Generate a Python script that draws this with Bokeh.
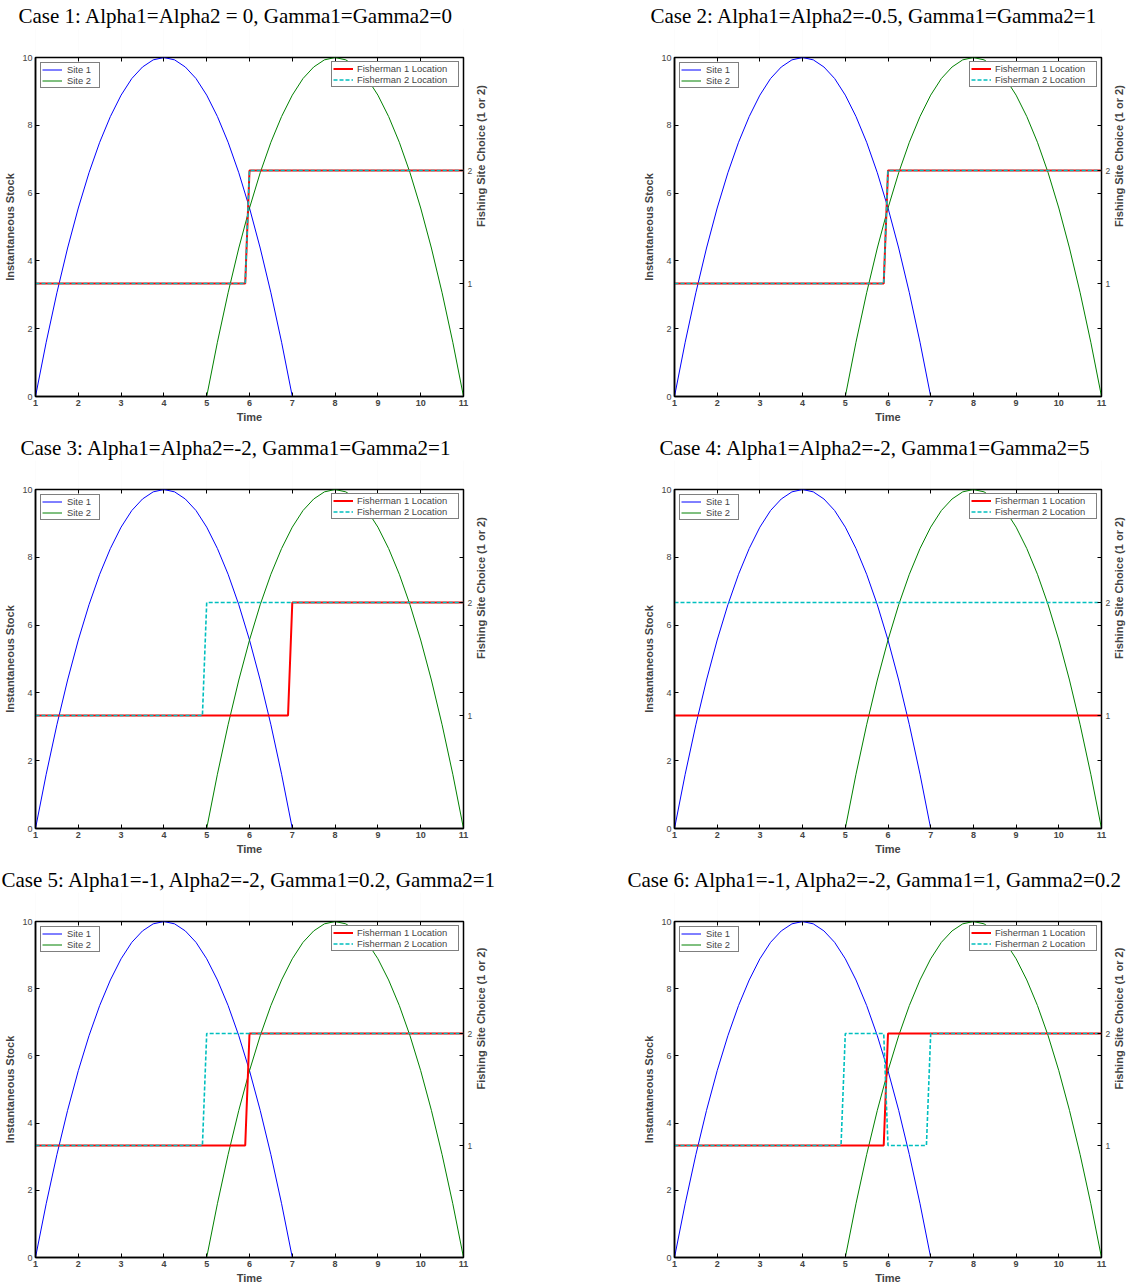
import math
from bokeh.plotting import figure
from bokeh.models import Range1d, LinearAxis, FixedTicker, Legend, LegendItem
from bokeh.layouts import column, row
from bokeh.embed import file_html
from bokeh.resources import INLINE

# ---------------- data ----------------
time = [1.0, 1.25, 1.5, 1.75, 2.0, 2.25, 2.5, 2.75, 3.0, 3.25, 3.5, 3.75,
        4.0, 4.25, 4.5, 4.75, 5.0, 5.25, 5.5, 5.75, 6.0, 6.25, 6.5, 6.75,
        7.0, 7.25, 7.5, 7.75, 8.0, 8.25, 8.5, 8.75, 9.0, 9.25, 9.5, 9.75,
        10.0, 10.25, 10.5, 10.75, 11.0]
site1 = [0.0, 1.60, 3.06, 4.38, 5.56, 6.60, 7.50, 8.26, 8.89, 9.38, 9.72, 9.93,
         10.0, 9.93, 9.72, 9.38, 8.89, 8.26, 7.50, 6.60, 5.56, 4.38, 3.06, 1.60,
         0.0, 0.0, 0.0, 0.0, 0.0, 0.0, 0.0, 0.0, 0.0, 0.0, 0.0, 0.0,
         0.0, 0.0, 0.0, 0.0, 0.0]
site2 = [0.0, 0.0, 0.0, 0.0, 0.0, 0.0, 0.0, 0.0, 0.0, 0.0, 0.0, 0.0,
         0.0, 0.0, 0.0, 0.0, 0.0, 1.60, 3.06, 4.38, 5.56, 6.60, 7.50, 8.26,
         8.89, 9.38, 9.72, 9.93, 10.0, 9.93, 9.72, 9.38, 8.89, 8.26, 7.50, 6.60,
         5.56, 4.38, 3.06, 1.60, 0.0]

case_titles = [
    "Case 1: Alpha1=Alpha2 = 0, Gamma1=Gamma2=0",
    "Case 2: Alpha1=Alpha2=-0.5, Gamma1=Gamma2=1",
    "Case 3: Alpha1=Alpha2=-2, Gamma1=Gamma2=1",
    "Case 4: Alpha1=Alpha2=-2, Gamma1=Gamma2=5",
    "Case 5: Alpha1=-1, Alpha2=-2, Gamma1=0.2, Gamma2=1",
    "Case 6: Alpha1=-1, Alpha2=-2, Gamma1=1, Gamma2=0.2",
]

f1_times = [[1, 5.9, 6.0, 11], [1, 5.9, 6.0, 11], [1, 6.9, 7.0, 11],
            [1, 11], [1, 5.9, 6.0, 11], [1, 5.9, 6.0, 11]]
f1_locs = [[1, 1, 2, 2], [1, 1, 2, 2], [1, 1, 2, 2],
           [1, 1], [1, 1, 2, 2], [1, 1, 2, 2]]
f2_times = [[1, 5.9, 6.0, 11], [1, 5.9, 6.0, 11], [1, 4.9, 5.0, 11],
            [1, 11], [1, 4.9, 5.0, 11], [1, 4.9, 5.0, 5.9, 6.0, 6.9, 7.0, 11]]
f2_locs = [[1, 1, 2, 2], [1, 1, 2, 2], [1, 1, 2, 2],
           [2, 2], [1, 1, 2, 2], [1, 1, 2, 2, 1, 1, 2, 2]]

time_ticks = [1, 2, 3, 4, 5, 6, 7, 8, 9, 10, 11]
stock_ticks = [0, 2, 4, 6, 8, 10]
choice_ticks = [1, 2]
choice_mirror_ticks = [0.6, 1.2, 1.8, 2.4]

# ---------------- layout / style ----------------
title_offsets = [-17, -24, -15, -15, -34, -47]
FRAME_W, FRAME_H = 428, 339
SANS = "Liberation Sans"
SERIF = "Liberation Serif"


def make_panel(i):
    col = i % 2
    r = i // 2
    if col == 0:
        bl, br = 35, 154
    else:
        bl, br = 57, 32
    bt = 57
    bb = 36 if r < 2 else 26
    p = figure(width=bl + FRAME_W + br, height=bt + FRAME_H + bb,
               x_range=Range1d(1, 11), y_range=Range1d(0, 10),
               output_backend="svg", toolbar_location=None,
               min_border_left=bl, min_border_right=br,
               min_border_top=bt, min_border_bottom=bb,
               title=case_titles[i])
    p.extra_y_ranges = {"choice": Range1d(0, 3)}
    p.background_fill_color = "white"
    p.border_fill_color = "white"
    p.outline_line_color = "black"
    p.outline_line_width = 1.5
    p.xgrid.visible = False
    p.ygrid.visible = False

    t = p.title
    t.text_font = SERIF
    t.text_font_size = "21px"
    t.text_font_style = "normal"
    t.text_color = "black"
    t.align = "left"
    t.offset = title_offsets[i]
    t.standoff = 2

    # bottom axis
    xa = p.xaxis[0]
    xa.ticker = FixedTicker(ticks=time_ticks)
    xa.axis_label = "Time"
    xa.axis_label_text_font = SANS
    xa.axis_label_text_font_size = "11px"
    xa.axis_label_text_font_style = "bold"
    xa.axis_label_standoff = 2
    xa.major_label_text_font = SANS
    xa.major_label_text_font_size = "9px"
    xa.major_label_text_font_style = "bold"
    xa.major_label_standoff = 3
    xa.major_tick_in = 4
    xa.major_tick_out = 0
    xa.minor_tick_line_color = None
    xa.axis_line_width = 1.5

    # left axis
    ya = p.yaxis[0]
    ya.ticker = FixedTicker(ticks=stock_ticks)
    ya.axis_label = "Instantaneous Stock"
    ya.axis_label_text_font = SANS
    ya.axis_label_text_font_size = "11px"
    ya.axis_label_text_font_style = "bold"
    ya.axis_label_standoff = 3
    ya.major_label_text_font = SANS
    ya.major_label_text_font_size = "9px"
    ya.major_label_standoff = 3
    ya.major_tick_in = 4
    ya.major_tick_out = 0
    ya.minor_tick_line_color = None
    ya.axis_line_width = 1.5

    # top mirror ticks drawn as inward minor ticks; faint outward major ticks
    # reserve the room that keeps the title away from the frame
    ta = LinearAxis(ticker=FixedTicker(ticks=time_ticks, minor_ticks=time_ticks))
    ta.major_tick_line_color = "black"
    ta.major_tick_line_alpha = 0.01
    ta.major_tick_in = 0
    ta.major_tick_out = 29
    ta.major_label_text_color = None
    ta.major_label_standoff = 0
    ta.minor_tick_in = 4
    ta.minor_tick_out = 0
    ta.minor_tick_line_color = "black"
    ta.axis_line_color = None
    p.add_layout(ta, "above")

    # right axis (site choice) with mirrored stock ticks as minor ticks
    ra = LinearAxis(y_range_name="choice",
                    ticker=FixedTicker(ticks=choice_ticks, minor_ticks=choice_mirror_ticks))
    ra.axis_label = "Fishing Site Choice (1 or 2)"
    ra.axis_label_text_font = SANS
    ra.axis_label_text_font_size = "11px"
    ra.axis_label_text_font_style = "bold"
    ra.axis_label_standoff = 6
    ra.major_label_text_font = SANS
    ra.major_label_text_font_size = "8.5px"
    ra.major_label_standoff = 4
    ra.major_tick_in = 4
    ra.major_tick_out = 0
    ra.minor_tick_in = 4
    ra.minor_tick_out = 0
    ra.axis_line_color = None
    try:
        ra.axis_label_orientation = math.pi / 2
    except Exception:
        pass
    p.add_layout(ra, "right")

    # glyphs
    s1 = p.line(time, site1, line_color="#0000ff", line_width=1)
    s2 = p.line(time, site2, line_color="#008000", line_width=1)
    fa = p.line(f1_times[i], f1_locs[i], y_range_name="choice",
                line_color="#ff0000", line_width=2)
    fb = p.line(f2_times[i], f2_locs[i], y_range_name="choice",
                line_color="#00bfbf", line_width=1.6, line_dash="4 2")

    def style_legend(lg, lw, standoff):
        lg.border_line_color = "black"
        lg.border_line_width = 1.5
        lg.background_fill_color = "white"
        lg.background_fill_alpha = 1.0
        lg.label_text_font = SANS
        lg.label_text_font_size = "9.4px"
        lg.glyph_width = 20
        lg.glyph_height = 11
        lg.label_height = 11
        lg.label_width = lw
        lg.spacing = 0
        lg.padding = 1
        lg.label_standoff = standoff

    lg1 = Legend(items=[LegendItem(label="Site 1", renderers=[s1]),
                        LegendItem(label="Site 2", renderers=[s2])],
                 location="top_left", margin=5)
    style_legend(lg1, 31, 5)
    lg2 = Legend(items=[LegendItem(label="Fisherman 1 Location", renderers=[fa]),
                        LegendItem(label="Fisherman 2 Location", renderers=[fb])],
                 location="top_right", margin=4)
    style_legend(lg2, 100, 4)
    p.add_layout(lg1, "center")
    p.add_layout(lg2, "center")
    return p


panels = [make_panel(i) for i in range(6)]
layout = column(row(panels[0], panels[1]),
                row(panels[2], panels[3]),
                row(panels[4], panels[5]))

open("out.html", "w").write(file_html(layout, INLINE))
